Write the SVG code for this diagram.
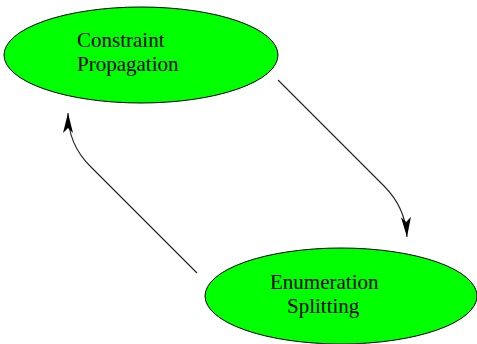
<svg xmlns="http://www.w3.org/2000/svg" width="477" height="344" viewBox="0 0 477 344">
<style>
.node{fill:#00ff00;stroke:#000;stroke-width:1}
.lbl{font-family:"Liberation Serif","Times New Roman",serif;font-size:21px;fill:#000}
.edge{fill:none;stroke:#222;stroke-width:1.1}
</style>
<defs>
<marker id="ah" markerUnits="userSpaceOnUse" orient="auto" refX="0" refY="0" markerWidth="24" markerHeight="12" overflow="visible">
<path d="M0,0 L-20,-5 L-15,0 L-20,5 Z" fill="#000"/>
</marker>
</defs>
<rect width="477" height="344" fill="#fff"/>
<g id="connectors">
<path class="edge" d="M278,80 L384,186 C398,200 406,218 407,237" marker-end="url(#ah)"/>
<path class="edge" d="M197,273 L90,166 C76,152 68,133 68,113" marker-end="url(#ah)"/>
</g>
<g id="node-constraint">
<ellipse class="node" cx="141" cy="55" rx="137" ry="48"/>
<text class="lbl" x="77" y="47">Constraint</text>
<text class="lbl" x="77" y="71">Propagation</text>
</g>
<g id="node-enumeration">
<ellipse class="node" cx="341" cy="296" rx="136" ry="48"/>
<text class="lbl" x="270" y="289">Enumeration</text>
<text class="lbl" x="287" y="313">Splitting</text>
</g>
</svg>
